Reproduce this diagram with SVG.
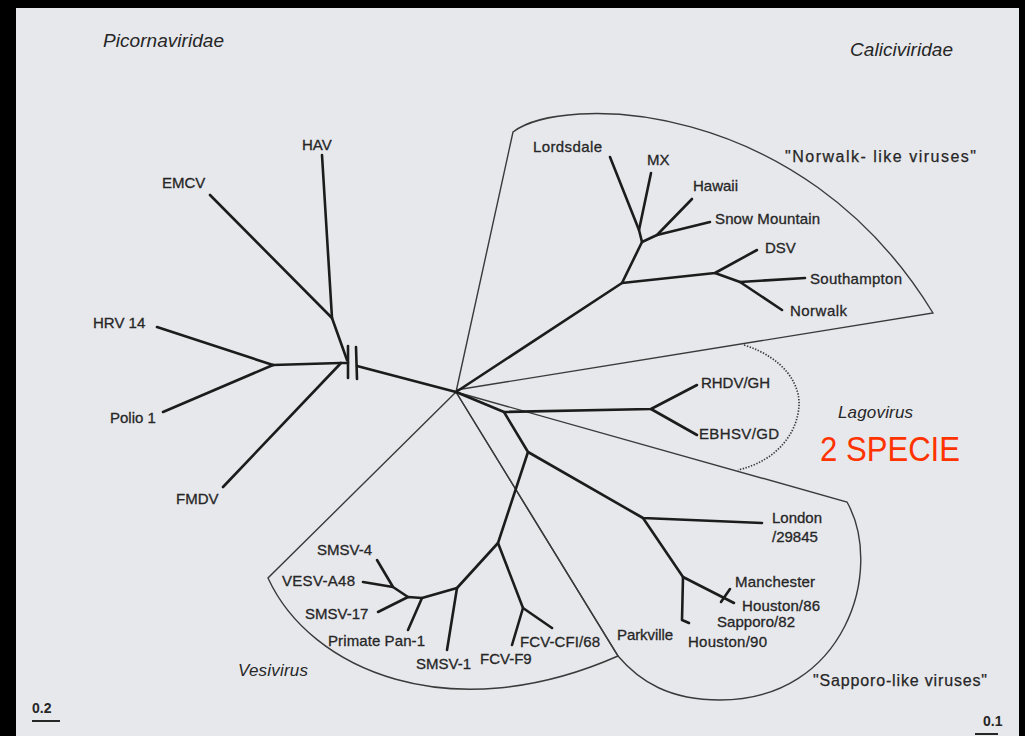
<svg xmlns="http://www.w3.org/2000/svg" width="1025" height="736" viewBox="0 0 1025 736">
<style>
.lbl{font-family:"Liberation Sans",Arial,sans-serif;font-size:15px;fill:#262626;stroke:#262626;stroke-width:0.3}
.fam{font-family:"Liberation Sans",Arial,sans-serif;font-style:italic;font-size:19px;fill:#262626}
.grp{font-family:"Liberation Sans",Arial,sans-serif;font-size:16px;fill:#262626;stroke:#262626;stroke-width:0.25}
.br{fill:none;stroke:#1c1c1c;stroke-width:2.6;stroke-linecap:round;stroke-linejoin:round}
.bd{fill:none;stroke:#3a3a3a;stroke-width:1.4}
.dot{fill:none;stroke:#3a3a3a;stroke-width:1.7;stroke-dasharray:1.4 1.5}
</style>
<rect x="0" y="0" width="1025" height="736" fill="#000"/>
<rect x="16" y="8" width="1003" height="728" fill="#e7e8ec"/>

<g id="boundaries">
<path class="bd" d="M456,392 L513,132 C560,95 800,95 933,313 L456,390"/>
<path class="dot" d="M744,345 C785,358 800,385 799,405 C798,430 780,460 738,470"/>
<path class="bd" d="M456,392 L847,502 C885,570 845,700 720,700 C670,700 640,682 618,656 Z"/>
<path class="bd" d="M456,392 L268,578 C310,670 450,730 618,656 Z"/>
</g>

<g id="connectors">
<!-- Picornaviridae -->
<path class="br" d="M456,392 L357,366"/>
<path class="br" d="M348,363 L340,363 L273,365"/>
<path class="br" d="M273,365 L157,327"/>
<path class="br" d="M273,365 L163,412"/>
<path class="br" d="M341,363 L223,487"/>
<path class="br" d="M347,360 L332,318 L322,155"/>
<path class="br" d="M332,318 L210,195"/>
<path class="br" d="M348,346 L348,378"/>
<path class="br" d="M356,347 L357,379"/>
<!-- Norwalk-like -->
<path class="br" d="M456,392 L622,283 L642,242 L639,230 L610,157"/>
<path class="br" d="M639,230 L651,173"/>
<path class="br" d="M642,242 L657,235 L692,199"/>
<path class="br" d="M657,235 L710,222"/>
<path class="br" d="M622,283 L715,273 L757,250"/>
<path class="br" d="M715,273 L740,282 L782,310"/>
<path class="br" d="M740,282 L805,278"/>
<!-- Lagovirus -->
<path class="br" d="M456,392 L504,412 L651,409 L697,385"/>
<path class="br" d="M651,409 L697,435"/>
<!-- Sapporo-like -->
<path class="br" d="M504,412 L528,452 L643,518 L762,523"/>
<path class="br" d="M643,518 L683,577 L682,620 L689,623"/>
<path class="br" d="M683,577 L734,603"/>
<path class="br" d="M721,602 L730,589"/>
<!-- Vesivirus -->
<path class="br" d="M528,452 L498,543 L523,608 L552,628"/>
<path class="br" d="M523,608 L512,645"/>
<path class="br" d="M498,543 L457,588 L447,650"/>
<path class="br" d="M457,588 L422,598 L408,630"/>
<path class="br" d="M422,598 L408,597 L378,612"/>
<path class="br" d="M408,597 L393,587 L377,560"/>
<path class="br" d="M393,587 L363,582"/>
</g>

<g id="family-labels">
<text class="fam" x="103" y="47" textLength="121">Picornaviridae</text>
<text class="fam" x="850" y="56" textLength="103">Caliciviridae</text>
<text class="fam" x="838" y="418" style="font-size:17px" textLength="75">Lagovirus</text>
<text class="fam" x="238" y="676" style="font-size:17px" textLength="70">Vesivirus</text>
<text class="grp" x="785" y="162" textLength="191">"Norwalk- like viruses"</text>
<text class="grp" x="813" y="686" textLength="174">"Sapporo-like viruses"</text>
<text x="820" y="461" font-family="'Liberation Sans',Arial,sans-serif" font-size="35" fill="#ff3300" textLength="140" lengthAdjust="spacingAndGlyphs">2 SPECIE</text>
</g>

<g id="node-HAV"><text class="lbl" x="302" y="150">HAV</text></g>
<g id="node-EMCV"><text class="lbl" x="162" y="188">EMCV</text></g>
<g id="node-HRV14"><text class="lbl" x="93" y="328">HRV 14</text></g>
<g id="node-Polio1"><text class="lbl" x="110" y="423">Polio 1</text></g>
<g id="node-FMDV"><text class="lbl" x="176" y="504">FMDV</text></g>

<g id="node-Lordsdale"><text class="lbl" x="533" y="152" textLength="69">Lordsdale</text></g>
<g id="node-MX"><text class="lbl" x="647" y="165">MX</text></g>
<g id="node-Hawaii"><text class="lbl" x="693" y="191">Hawaii</text></g>
<g id="node-SnowMountain"><text class="lbl" x="715" y="224" textLength="105">Snow Mountain</text></g>
<g id="node-DSV"><text class="lbl" x="765" y="253">DSV</text></g>
<g id="node-Southampton"><text class="lbl" x="810" y="284" textLength="92">Southampton</text></g>
<g id="node-Norwalk"><text class="lbl" x="790" y="316" textLength="57">Norwalk</text></g>

<g id="node-RHDV"><text class="lbl" x="701" y="388" textLength="69">RHDV/GH</text></g>
<g id="node-EBHSV"><text class="lbl" x="699" y="439" textLength="80">EBHSV/GD</text></g>

<g id="node-London"><text class="lbl" x="772" y="523">London</text><text class="lbl" x="772" y="542">/29845</text></g>
<g id="node-Manchester"><text class="lbl" x="735" y="587" textLength="80">Manchester</text></g>
<g id="node-Houston86"><text class="lbl" x="742" y="611" textLength="78">Houston/86</text></g>
<g id="node-Sapporo82"><text class="lbl" x="717" y="627" textLength="78">Sapporo/82</text></g>
<g id="node-Parkville"><text class="lbl" x="617" y="640" textLength="56">Parkville</text></g>
<g id="node-Houston90"><text class="lbl" x="688" y="647" textLength="79">Houston/90</text></g>

<g id="node-SMSV4"><text class="lbl" x="317" y="555">SMSV-4</text></g>
<g id="node-VESVA48"><text class="lbl" x="282" y="586" textLength="73">VESV-A48</text></g>
<g id="node-SMSV17"><text class="lbl" x="305" y="619">SMSV-17</text></g>
<g id="node-PrimatePan1"><text class="lbl" x="328" y="646" textLength="97">Primate Pan-1</text></g>
<g id="node-SMSV1"><text class="lbl" x="416" y="669">SMSV-1</text></g>
<g id="node-FCVF9"><text class="lbl" x="480" y="664">FCV-F9</text></g>
<g id="node-FCVCFI68"><text class="lbl" x="520" y="647" textLength="80">FCV-CFI/68</text></g>

<g id="scale-0.2">
<text x="32" y="713" font-family="'Liberation Sans',Arial,sans-serif" font-size="14" font-weight="bold" fill="#262626">0.2</text>
<line x1="32" y1="721" x2="60" y2="721" stroke="#262626" stroke-width="2"/>
</g>
<g id="scale-0.1">
<text x="983" y="726" font-family="'Liberation Sans',Arial,sans-serif" font-size="14" font-weight="bold" fill="#262626">0.1</text>
<line x1="975" y1="734" x2="998" y2="734" stroke="#262626" stroke-width="2"/>
</g>
</svg>
